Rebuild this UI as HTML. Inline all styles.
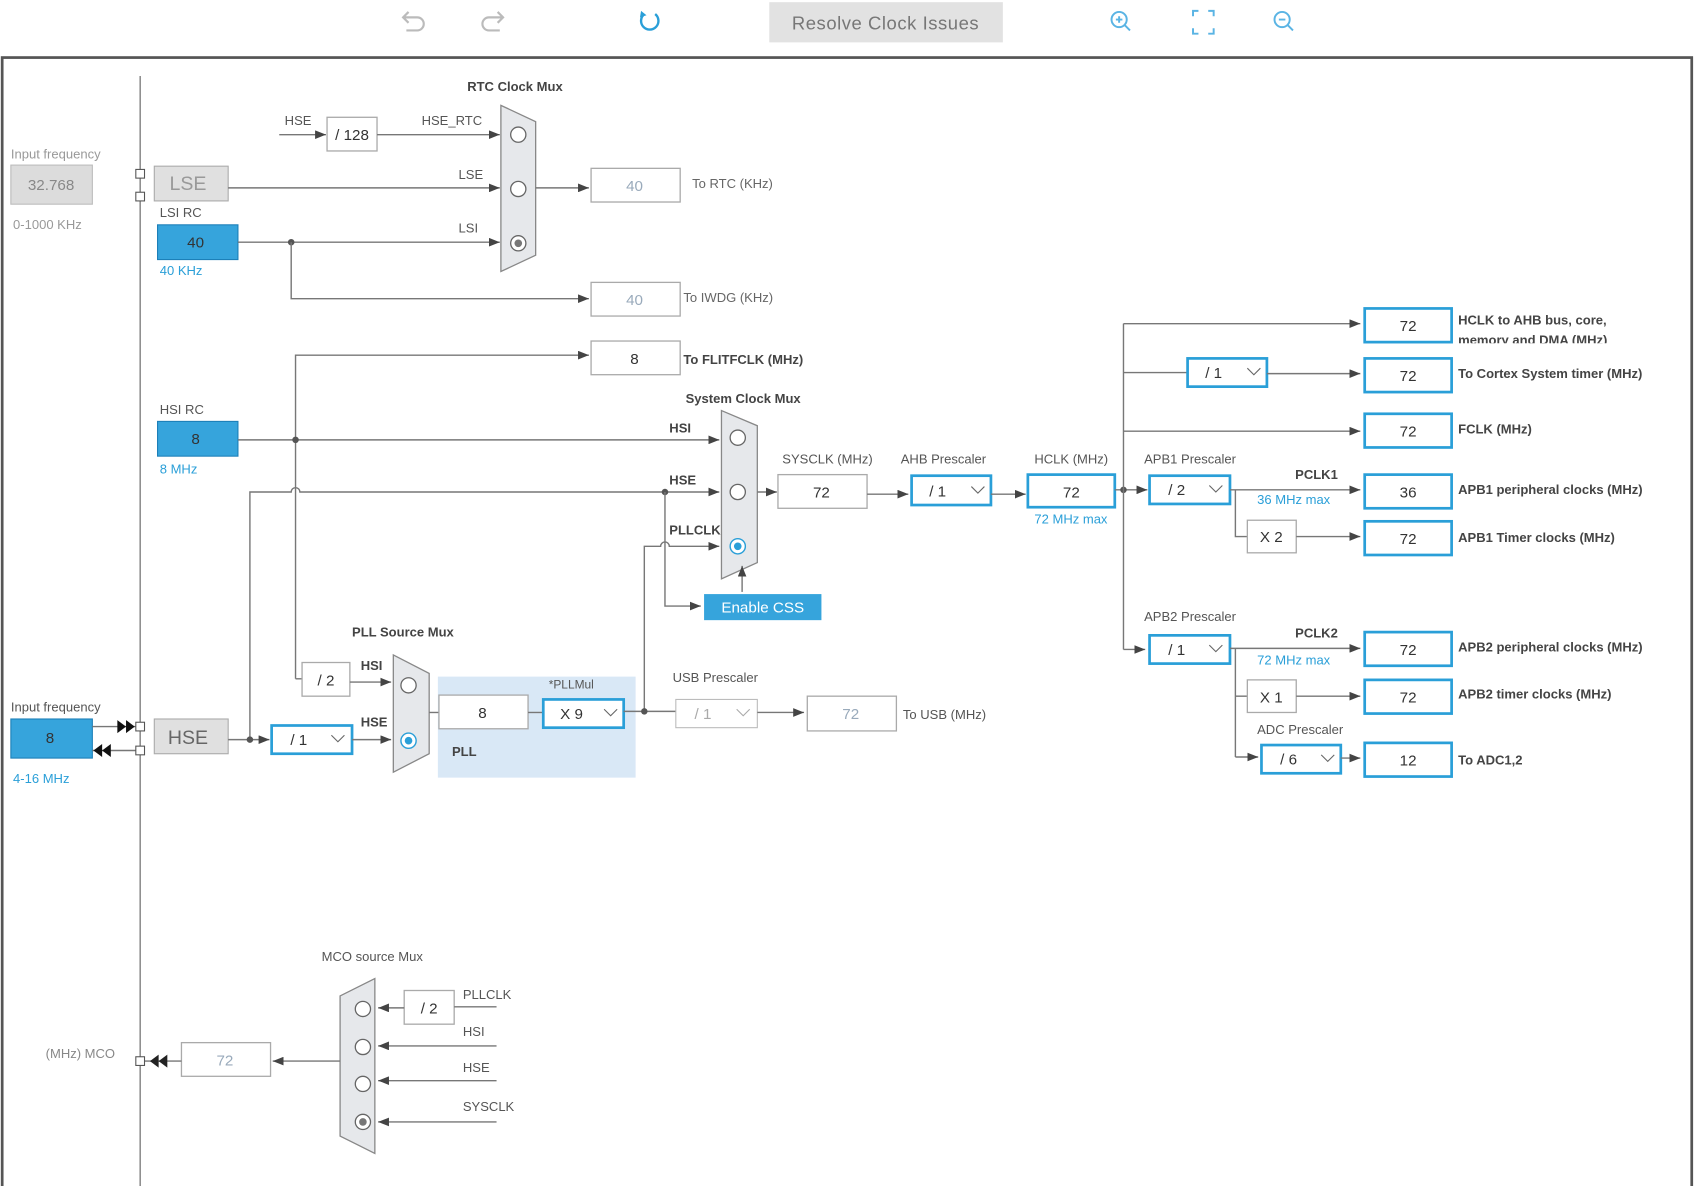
<!DOCTYPE html>
<html><head><meta charset="utf-8"><style>
html,body{margin:0;padding:0;background:#fff;width:1695px;height:1186px;overflow:hidden}
svg{display:block}
text{font-family:"Liberation Sans",sans-serif;font-size:12px;fill:#555}
.b{font-weight:bold;fill:#444}
.v{font-size:14px;fill:#333;text-anchor:middle}
.l{font-size:14px;fill:#9ab;text-anchor:middle}
.bl{fill:#2a9fd8}
.ln{stroke:#777;stroke-width:1.3;fill:none}
.bx{fill:#fff;stroke:#aaa;stroke-width:1.2}
.bb{fill:#fff;stroke:#2a9fd8;stroke-width:2.5}
.mux{fill:#e6e8eb;stroke:#888;stroke-width:1.2}
.c{fill:#fff;stroke:#666;stroke-width:1.2}
</style></head><body>
<svg width="1695" height="1186" viewBox="0 0 1560 1092" preserveAspectRatio="none">
<defs><marker id="a" markerWidth="10" markerHeight="8" refX="10" refY="4" orient="auto" markerUnits="userSpaceOnUse"><path d="M0,0 L10,4 L0,8z" fill="#444"/></marker></defs>
<!-- toolbar -->
<g stroke="#bbb" stroke-width="2" fill="none"><path d="M372,16 h12 a6,6 0 0 1 0,12 h-10 M376,11 l-5,5 5,5"/><path d="M462,16 h-12 a6,6 0 0 0 0,12 h10 M458,11 l5,5 -5,5"/></g>
<path d="M593,13 a8,8 0 1 0 10,0" stroke="#2a9fd8" stroke-width="2.2" fill="none"/><path d="M590,10 l5,4 -6,2z" fill="#2a9fd8"/>
<rect x="708" y="2" width="215" height="37" fill="#e2e2e2"/>
<text x="815" y="27" style="font-size:17px;fill:#777;text-anchor:middle;letter-spacing:0.5px">Resolve Clock Issues</text>
<g stroke="#5ab4e4" stroke-width="1.8" fill="none"><circle cx="1030" cy="18" r="7"/><path d="M1035,23 l5,5 M1027,18h6M1030,15v6"/><path d="M1098,15v-5h5M1112,10h5v5M1117,26v5h-5M1103,31h-5v-5"/><circle cx="1180" cy="18" r="7"/><path d="M1185,23 l5,5 M1177,18h6"/></g>
<!-- frame -->
<rect x="2" y="53" width="1555" height="1045" fill="none" stroke="#555" stroke-width="2.5"/>
<line x1="129" y1="70" x2="129" y2="1097" stroke="#777" stroke-width="1.2"/>
<!-- input LSE -->
<text x="10" y="146" style="fill:#999">Input frequency</text>
<rect x="10" y="152" width="75" height="36" fill="#dcdcdc" stroke="#bbb"/>
<text x="47" y="175" class="v" style="fill:#888">32.768</text>
<text x="12" y="211" style="fill:#999">0-1000 KHz</text>
<rect x="125" y="156" width="8" height="8" fill="#fff" stroke="#555"/><rect x="125" y="177" width="8" height="8" fill="#fff" stroke="#555"/>
<rect x="142" y="153" width="68" height="32" fill="#e0e0e0" stroke="#aaa"/>
<text x="173" y="175" style="font-size:18px;fill:#999;text-anchor:middle">LSE</text>
<text x="147" y="200">LSI RC</text>
<rect x="145" y="207" width="74" height="32" fill="#36a4dc" stroke="#1c7fb8"/>
<text x="180" y="228" class="v">40</text>
<text x="147" y="253" class="bl">40 KHz</text>
<!-- RTC mux -->
<text x="430" y="84" class="b" style="font-weight:bold">RTC Clock Mux</text>
<path class="mux" d="M461,97 L493,112 L493,235 L461,250z"/>
<circle class="c" cx="477" cy="124" r="7"/><circle class="c" cx="477" cy="174" r="7"/><circle class="c" cx="477" cy="224" r="7"/><circle cx="477" cy="224" r="3.5" fill="#777"/>
<text x="262" y="115">HSE</text>
<line class="ln" x1="257" y1="124" x2="300" y2="124" marker-end="url(#a)"/>
<rect class="bx" x="301" y="108" width="46" height="31"/><text x="324" y="129" class="v">/ 128</text>
<text x="388" y="115">HSE_RTC</text>
<line class="ln" x1="347" y1="124" x2="460" y2="124" marker-end="url(#a)"/>
<text x="422" y="165">LSE</text><line class="ln" x1="210" y1="173" x2="460" y2="173" marker-end="url(#a)"/>
<text x="422" y="214">LSI</text><line class="ln" x1="219" y1="223" x2="460" y2="223" marker-end="url(#a)"/>
<circle cx="268" cy="223" r="3" fill="#555"/>
<line class="ln" x1="493" y1="173" x2="542" y2="173" marker-end="url(#a)"/>
<rect class="bx" x="544" y="155" width="82" height="31"/><text x="584" y="176" class="l">40</text>
<text x="637" y="173" class="b" style="font-weight:normal;fill:#666">To RTC (KHz)</text>
<path class="ln" d="M268,223 V275 H542" marker-end="url(#a)"/>
<rect class="bx" x="544" y="260" width="82" height="31"/><text x="584" y="281" class="l">40</text>
<text x="629" y="278" style="fill:#666">To IWDG (KHz)</text>
<!-- FLITF -->
<path class="ln" d="M272,625 V327 H542" marker-end="url(#a)"/>
<rect class="bx" x="544" y="314" width="82" height="31"/><text x="584" y="335" class="v">8</text>
<text x="629" y="335" class="b">To FLITFCLK (MHz)</text>
<!-- HSI -->
<text x="147" y="381">HSI RC</text>
<rect x="145" y="388" width="74" height="32" fill="#36a4dc" stroke="#1c7fb8"/>
<text x="180" y="409" class="v">8</text>
<text x="147" y="436" class="bl">8 MHz</text>
<line class="ln" x1="219" y1="405" x2="662" y2="405" marker-end="url(#a)"/>
<circle cx="272" cy="405" r="3" fill="#555"/>
<text x="616" y="398" class="b">HSI</text>
<!-- sys mux -->
<text x="631" y="371" class="b">System Clock Mux</text>
<path class="mux" d="M664,378 L697,392 L697,518 L664,533z"/>
<circle class="c" cx="679" cy="403" r="7"/><circle class="c" cx="679" cy="453" r="7"/>
<circle cx="679" cy="503" r="7" fill="#fff" stroke="#2a9fd8" stroke-width="1.3"/><circle cx="679" cy="503" r="3.5" fill="#2a9fd8"/>
<path class="ln" d="M230,681 V453 H268 a4,4 0 0 1 8,0 H662" marker-end="url(#a)"/>
<text x="616" y="446" class="b">HSE</text>
<circle cx="612" cy="453" r="3" fill="#555"/>
<path class="ln" d="M612,453 V558 H645" marker-end="url(#a)"/>
<rect x="648" y="547" width="108" height="24" fill="#36a4dc"/>
<text x="702" y="564" style="font-size:14px;fill:#fff;text-anchor:middle">Enable CSS</text>
<path class="ln" d="M593,655 V503 H608 a4,4 0 0 1 8,0 H662" marker-end="url(#a)"/>
<text x="616" y="492" class="b">PLLCLK</text>
<line class="ln" x1="683" y1="545" x2="683" y2="521" marker-end="url(#a)"/>
<line class="ln" x1="697" y1="453" x2="715" y2="453" marker-end="url(#a)"/>
<text x="720" y="427">SYSCLK (MHz)</text>
<rect class="bx" x="716" y="437" width="82" height="31"/><text x="756" y="458" class="v">72</text>
<line class="ln" x1="798" y1="455" x2="836" y2="455" marker-end="url(#a)"/>
<text x="829" y="427">AHB Prescaler</text>
<rect class="bb" x="839" y="438" width="73" height="27"/><text x="863" y="457" class="v">/ 1</text><path d="M894,448 l6,6 6,-6" stroke="#666" fill="none"/>
<line class="ln" x1="912" y1="455" x2="944" y2="455" marker-end="url(#a)"/>
<text x="952" y="427">HCLK (MHz)</text>
<rect class="bb" x="946" y="437" width="80" height="30"/><text x="986" y="458" class="v">72</text>
<text x="952" y="482" class="bl">72 MHz max</text>
<line class="ln" x1="1026" y1="451" x2="1056" y2="451" marker-end="url(#a)"/>
<circle cx="1034" cy="451" r="3" fill="#555"/>
<line class="ln" x1="1034" y1="298" x2="1034" y2="598"/>
<!-- right column -->
<line class="ln" x1="1034" y1="298" x2="1252" y2="298" marker-end="url(#a)"/>
<rect class="bb" x="1256" y="284" width="80" height="31"/><text x="1296" y="305" class="v">72</text>
<text x="1342" y="299" class="b">HCLK to AHB bus, core,</text>
<text x="1342" y="317" class="b" clip-path="url(#cl)">memory and DMA (MHz)</text>
<clipPath id="cl"><rect x="1340" y="300" width="200" height="16"/></clipPath>
<line class="ln" x1="1034" y1="343" x2="1093" y2="343"/>
<rect class="bb" x="1093" y="330" width="73" height="26"/><text x="1117" y="348" class="v">/ 1</text><path d="M1148,339 l6,6 6,-6" stroke="#666" fill="none"/>
<line class="ln" x1="1166" y1="344" x2="1252" y2="344" marker-end="url(#a)"/>
<rect class="bb" x="1256" y="330" width="80" height="31"/><text x="1296" y="351" class="v">72</text>
<text x="1342" y="348" class="b">To Cortex System timer (MHz)</text>
<line class="ln" x1="1034" y1="397" x2="1252" y2="397" marker-end="url(#a)"/>
<rect class="bb" x="1256" y="381" width="80" height="31"/><text x="1296" y="402" class="v">72</text>
<text x="1342" y="399" class="b">FCLK (MHz)</text>
<text x="1053" y="427">APB1 Prescaler</text>
<rect class="bb" x="1058" y="438" width="74" height="26"/><text x="1083" y="456" class="v">/ 2</text><path d="M1113,447 l6,6 6,-6" stroke="#666" fill="none"/>
<line class="ln" x1="1132" y1="451" x2="1252" y2="451" marker-end="url(#a)"/>
<text x="1192" y="441" class="b">PCLK1</text>
<text x="1157" y="464" class="bl">36 MHz max</text>
<rect class="bb" x="1256" y="437" width="80" height="31"/><text x="1296" y="458" class="v">36</text>
<text x="1342" y="455" class="b">APB1 peripheral clocks (MHz)</text>
<path class="ln" d="M1137,451 V494 H1148"/>
<rect class="bx" x="1148" y="479" width="45" height="30"/><text x="1170" y="499" class="v">X 2</text>
<line class="ln" x1="1193" y1="494" x2="1252" y2="494" marker-end="url(#a)"/>
<rect class="bb" x="1256" y="480" width="80" height="31"/><text x="1296" y="501" class="v">72</text>
<text x="1342" y="499" class="b">APB1 Timer clocks (MHz)</text>
<path class="ln" d="M1034,598 H1054" marker-end="url(#a)"/>
<text x="1053" y="572">APB2 Prescaler</text>
<rect class="bb" x="1058" y="585" width="74" height="26"/><text x="1083" y="603" class="v">/ 1</text><path d="M1113,594 l6,6 6,-6" stroke="#666" fill="none"/>
<line class="ln" x1="1132" y1="597" x2="1252" y2="597" marker-end="url(#a)"/>
<text x="1192" y="587" class="b">PCLK2</text>
<text x="1157" y="612" class="bl">72 MHz max</text>
<rect class="bb" x="1256" y="582" width="80" height="31"/><text x="1296" y="603" class="v">72</text>
<text x="1342" y="600" class="b">APB2 peripheral clocks (MHz)</text>
<path class="ln" d="M1137,597 V697"/><line class="ln" x1="1137" y1="641" x2="1148" y2="641"/>
<rect class="bx" x="1148" y="626" width="45" height="30"/><text x="1170" y="647" class="v">X 1</text>
<line class="ln" x1="1193" y1="641" x2="1252" y2="641" marker-end="url(#a)"/>
<rect class="bb" x="1256" y="626" width="80" height="31"/><text x="1296" y="647" class="v">72</text>
<text x="1342" y="643" class="b">APB2 timer clocks (MHz)</text>
<text x="1157" y="676">ADC Prescaler</text>
<line class="ln" x1="1137" y1="697" x2="1158" y2="697" marker-end="url(#a)"/>
<rect class="bb" x="1161" y="686" width="73" height="26"/><text x="1186" y="704" class="v">/ 6</text><path d="M1216,695 l6,6 6,-6" stroke="#666" fill="none"/>
<line class="ln" x1="1234" y1="698" x2="1252" y2="698" marker-end="url(#a)"/>
<rect class="bb" x="1256" y="684" width="80" height="31"/><text x="1296" y="705" class="v">12</text>
<text x="1342" y="704" class="b">To ADC1,2</text>
<!-- PLL -->
<text x="324" y="586" class="b">PLL Source Mux</text>
<path class="mux" d="M362,603 L395,620 L395,694 L362,711z"/>
<circle class="c" cx="376" cy="631" r="7"/>
<circle cx="376" cy="682" r="7" fill="#fff" stroke="#2a9fd8" stroke-width="1.3"/><circle cx="376" cy="682" r="3.5" fill="#2a9fd8"/>
<path class="ln" d="M272,625 H278"/>
<rect class="bx" x="278" y="610" width="44" height="31"/><text x="300" y="631" class="v">/ 2</text>
<line class="ln" x1="322" y1="628" x2="360" y2="628" marker-end="url(#a)"/>
<text x="332" y="617" class="b">HSI</text>
<text x="10" y="655">Input frequency</text>
<rect x="10" y="662" width="75" height="36" fill="#36a4dc" stroke="#1c7fb8"/><text x="46" y="684" class="v">8</text>
<text x="12" y="721" class="bl">4-16 MHz</text>
<line class="ln" x1="85" y1="669" x2="125" y2="669"/><path d="M108,663 l8,6 -8,6z M116,663 l8,6 -8,6z" fill="#111"/>
<line class="ln" x1="85" y1="691" x2="125" y2="691"/><path d="M102,685 l-8,6 8,6z M94,685 l-8,6 8,6z" fill="#111"/>
<rect x="125" y="665" width="8" height="8" fill="#fff" stroke="#555"/><rect x="125" y="687" width="8" height="8" fill="#fff" stroke="#555"/>
<rect x="142" y="662" width="68" height="32" fill="#e0e0e0" stroke="#aaa"/>
<text x="173" y="685" style="font-size:18px;fill:#666;text-anchor:middle">HSE</text>
<line class="ln" x1="210" y1="681" x2="248" y2="681" marker-end="url(#a)"/>
<circle cx="230" cy="681" r="3" fill="#555"/>
<rect class="bb" x="250" y="668" width="74" height="26"/><text x="275" y="686" class="v">/ 1</text><path d="M305,677 l6,6 6,-6" stroke="#666" fill="none"/>
<line class="ln" x1="324" y1="681" x2="360" y2="681" marker-end="url(#a)"/>
<text x="332" y="669" class="b">HSE</text>
<rect x="403" y="623" width="182" height="93" fill="#d9e8f6"/>
<line class="ln" x1="395" y1="656" x2="404" y2="656"/>
<rect class="bx" x="404" y="640" width="82" height="31"/><text x="444" y="661" class="v">8</text>
<line class="ln" x1="486" y1="656" x2="500" y2="656"/>
<text x="505" y="634" style="font-size:11px">*PLLMul</text>
<rect class="bb" x="500" y="644" width="74" height="26"/><text x="526" y="662" class="v">X 9</text><path d="M556,653 l6,6 6,-6" stroke="#666" fill="none"/>
<text x="416" y="696" class="b">PLL</text>
<line class="ln" x1="574" y1="655" x2="622" y2="655"/>
<circle cx="593" cy="655" r="3" fill="#555"/>
<text x="619" y="628">USB Prescaler</text>
<rect x="622" y="644" width="75" height="26" fill="#fff" stroke="#bbb"/><text x="647" y="662" class="v" style="fill:#aaa">/ 1</text><path d="M678,653 l6,6 6,-6" stroke="#aaa" fill="none"/>
<line class="ln" x1="697" y1="656" x2="740" y2="656" marker-end="url(#a)"/>
<rect class="bx" x="743" y="641" width="82" height="32"/><text x="783" y="662" class="l">72</text>
<text x="831" y="662">To USB (MHz)</text>
<!-- MCO -->
<text x="296" y="885">MCO source Mux</text>
<path class="mux" d="M313,917 L345,901 L345,1062 L313,1046z"/>
<circle class="c" cx="334" cy="929" r="7"/><circle class="c" cx="334" cy="964" r="7"/><circle class="c" cx="334" cy="998" r="7"/><circle class="c" cx="334" cy="1033" r="7"/><circle cx="334" cy="1033" r="3.5" fill="#777"/>
<rect class="bx" x="372" y="912" width="46" height="31"/><text x="395" y="933" class="v">/ 2</text>
<line class="ln" x1="418" y1="927" x2="457" y2="927"/><text x="426" y="920">PLLCLK</text>
<line class="ln" x1="372" y1="928" x2="348" y2="928" marker-end="url(#a)"/>
<line class="ln" x1="457" y1="963" x2="348" y2="963" marker-end="url(#a)"/><text x="426" y="954">HSI</text>
<line class="ln" x1="457" y1="995" x2="348" y2="995" marker-end="url(#a)"/><text x="426" y="987">HSE</text>
<line class="ln" x1="457" y1="1033" x2="348" y2="1033" marker-end="url(#a)"/><text x="426" y="1023">SYSCLK</text>
<line class="ln" x1="313" y1="977" x2="251" y2="977" marker-end="url(#a)"/>
<rect class="bx" x="167" y="960" width="82" height="31"/><text x="207" y="981" class="l">72</text>
<line class="ln" x1="133" y1="977" x2="167" y2="977"/><path d="M146,971 l-8,6 8,6z M154,971 l-8,6 8,6z" fill="#222"/>
<rect x="125" y="973" width="8" height="8" fill="#fff" stroke="#555"/>
<text x="42" y="974" style="fill:#888">(MHz) MCO</text>
</svg>
</body></html>
